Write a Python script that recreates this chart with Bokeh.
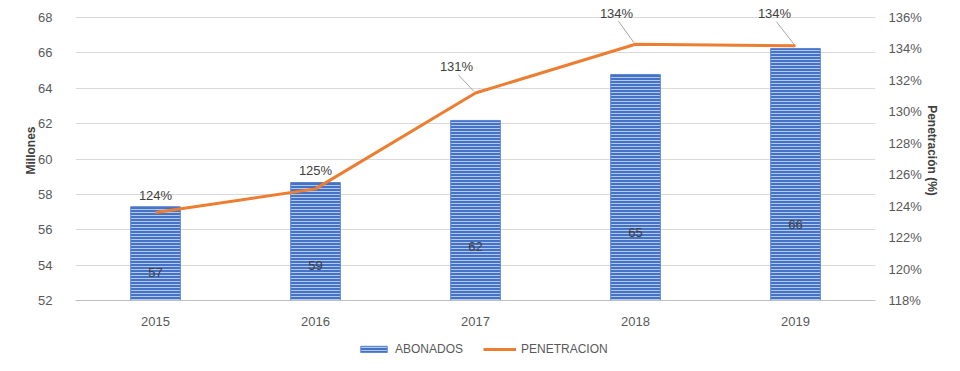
from bokeh.plotting import figure
from bokeh.layouts import column
from bokeh.models import (Range1d, LinearAxis, FixedTicker, ColumnDataSource, LabelSet,
                          Legend, LegendItem, CustomJSTickFormatter)
from bokeh.core.properties import value
from bokeh.embed import file_html
from bokeh.resources import INLINE

years = ["2015", "2016", "2017", "2018", "2019"]
abonados = [57.3, 58.67, 62.18, 64.78, 66.25]          # millones
penetracion = [123.6, 125.1, 131.2, 134.3, 134.2]      # %
left_ticks = [52, 54, 56, 58, 60, 62, 64, 66, 68]
right_ticks = [118, 120, 122, 124, 126, 128, 130, 132, 134, 136]
series_names = ["ABONADOS", "PENETRACION"]

FONT = "Liberation Sans Narrow, Arial Narrow, Liberation Sans, sans-serif"
TXT = "#595959"
BAR_STYLE = dict(fill_color="#4472C4", line_color="#5B85D0", line_width=1,
                 hatch_pattern="horizontal_line", hatch_color="#B4C7EC",
                 hatch_scale=3, hatch_weight=1)
LINE_STYLE = dict(line_color="#ED7D31", line_width=3)

xs = list(range(len(years)))

# plot frame spans 300px; the tick area (52..68) spans the lower 283px
TOP_PAD = 17.0 / 283.0
lspan = left_ticks[-1] - left_ticks[0]
rspan = right_ticks[-1] - right_ticks[0]

p = figure(width=960, height=330, output_backend="svg", toolbar_location=None,
           x_range=Range1d(-0.5, len(years) - 0.5),
           y_range=Range1d(left_ticks[0], left_ticks[-1] + lspan * TOP_PAD),
           min_border_left=75, min_border_right=85, min_border_top=0, min_border_bottom=30)
p.outline_line_color = None
p.background_fill_color = "white"
p.extra_y_ranges = {"pct": Range1d(right_ticks[0], right_ticks[-1] + rspan * TOP_PAD)}

# axes
p.xaxis.ticker = FixedTicker(ticks=xs)
p.xaxis.major_label_overrides = {i: y for i, y in enumerate(years)}
p.xaxis.axis_line_color = "#BFBFBF"
p.xaxis.major_tick_line_color = None
p.xaxis.minor_tick_line_color = None
p.xaxis.major_label_standoff = 10
p.xaxis.major_label_text_font = FONT
p.xaxis.major_label_text_font_size = "13px"
p.xaxis.major_label_text_color = TXT

p.yaxis.ticker = FixedTicker(ticks=left_ticks)
p.yaxis.axis_line_color = None
p.yaxis.major_tick_line_color = None
p.yaxis.minor_tick_line_color = None
p.yaxis.major_label_standoff = 17
p.yaxis.major_label_text_font = FONT
p.yaxis.major_label_text_font_size = "13px"
p.yaxis.major_label_text_color = TXT
p.yaxis.axis_label = "Millones"
p.yaxis.axis_label_text_font = FONT
p.yaxis.axis_label_text_font_size = "12px"
p.yaxis.axis_label_text_font_style = "bold"
p.yaxis.axis_label_text_color = "#404040"
p.yaxis.axis_label_standoff = -3

raxis = LinearAxis(y_range_name="pct", ticker=FixedTicker(ticks=right_ticks),
                   formatter=CustomJSTickFormatter(code="return tick.toFixed(0) + '%';"))
raxis.axis_line_color = None
raxis.major_tick_line_color = None
raxis.minor_tick_line_color = None
raxis.major_label_standoff = 7
raxis.major_label_text_font = FONT
raxis.major_label_text_font_size = "13px"
raxis.major_label_text_color = TXT
raxis.axis_label = "Penetración (%)"
raxis.axis_label_text_font = FONT
raxis.axis_label_text_font_size = "12px"
raxis.axis_label_text_font_style = "bold"
raxis.axis_label_text_color = "#404040"
raxis.axis_label_standoff = 0
p.add_layout(raxis, "right")

p.xgrid.grid_line_color = None
p.ygrid.grid_line_color = "#D9D9D9"
p.ygrid.grid_line_width = 1

# bars
base = left_ticks[0]
src_b = ColumnDataSource(dict(x=xs, top=abonados,
                              ly=[base + 0.3 * (v - base) for v in abonados],
                              lbl=[str(round(v)) for v in abonados]))
p.vbar(x="x", top="top", bottom=base, width=0.31, source=src_b, **BAR_STYLE)
p.text(x="x", y="ly", text="lbl", source=src_b, text_align="center", text_baseline="middle",
       text_font=value(FONT), text_font_size="13px", text_color="#404040")

# line
src_l = ColumnDataSource(dict(x=xs, y=penetracion,
                              lbl=[f"{round(v)}%" for v in penetracion],
                              xo=[0, 0, -19, -19, -21],
                              yo=[17, 18, 26, 31, 32]))
p.line(x="x", y="y", source=src_l, y_range_name="pct", **LINE_STYLE)

# leader lines for labels placed to the left
lead_idx = [2, 3, 4]
units_per_px_x = len(years) / 800.0
units_per_px_y = rspan / 283.0
lx0 = [xs[i] + (src_l.data["xo"][i] + 2) * units_per_px_x for i in lead_idx]
ly0 = [penetracion[i] + (src_l.data["yo"][i] - 8) * units_per_px_y for i in lead_idx]
lx1 = [xs[i] - 1.5 * units_per_px_x for i in lead_idx]
ly1 = [penetracion[i] + 1.5 * units_per_px_y for i in lead_idx]
p.segment(x0=lx0, y0=ly0, x1=lx1, y1=ly1, y_range_name="pct",
          line_color="#A6A6A6", line_width=1)

labels = LabelSet(x="x", y="y", text="lbl", source=src_l, y_range_name="pct",
                  x_offset="xo", y_offset="yo", text_align="center", text_baseline="middle",
                  text_font=value(FONT), text_font_size="13px", text_color="#404040")
p.add_layout(labels)

# legend strip below the chart (sample renderers carry no drawable data)
nan = float("nan")
lg = figure(width=960, height=41, output_backend="svg", toolbar_location=None,
            x_range=Range1d(0, 1), y_range=Range1d(0, 1),
            min_border=0, x_axis_type=None, y_axis_type=None)
lg.outline_line_color = None
lg.xgrid.grid_line_color = None
lg.ygrid.grid_line_color = None
r_bar = lg.vbar(x=[nan], top=[nan], width=0.1, **BAR_STYLE)
r_line = lg.line(x=[nan, nan], y=[nan, nan], **LINE_STYLE)
legend = Legend(items=[LegendItem(label=series_names[0], renderers=[r_bar]),
                       LegendItem(label=series_names[1], renderers=[r_line])],
                orientation="horizontal", location=(282, 15),
                glyph_width=33, glyph_height=8, label_standoff=5, spacing=20,
                padding=0, margin=0, border_line_color=None, background_fill_alpha=0,
                label_text_font=FONT, label_text_font_size="12px", label_text_color=TXT)
lg.add_layout(legend, "center")

open("out.html", "w").write(file_html(column(p, lg, spacing=0), INLINE))
